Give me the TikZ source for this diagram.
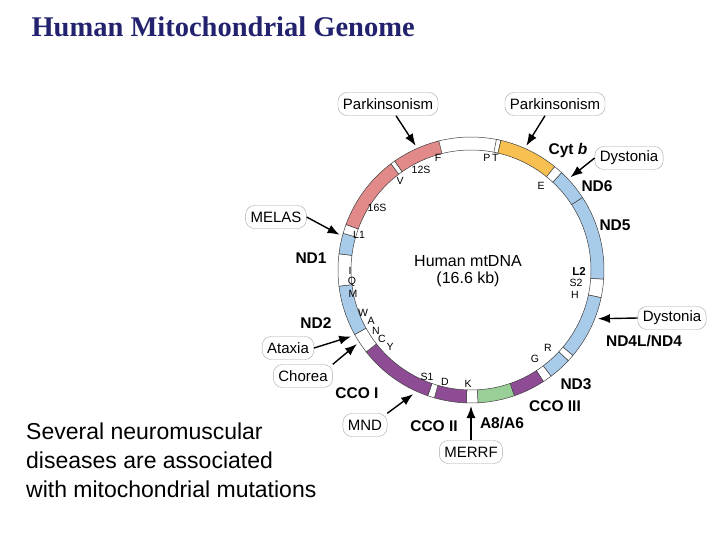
\documentclass[tikz,border=0pt]{standalone}
\usepackage{fontspec}
\setmainfont{Liberation Sans}
\newfontfamily\ttlfont{Liberation Serif}
\usetikzlibrary{calc,arrows.meta}
\definecolor{rred}{HTML}{E28A8A}
\definecolor{ryel}{HTML}{F8C050}
\definecolor{rblue}{HTML}{A9CBEA}
\definecolor{rpur}{HTML}{8E4C94}
\definecolor{rgrn}{HTML}{9ACF98}
\definecolor{ttl}{HTML}{22226E}
\begin{document}
\begin{tikzpicture}[x=1pt,y=-1pt,
  box/.style={draw=gray!70,rounded corners=9pt,fill=white,minimum height=23pt,inner xsep=5pt,font=\fontsize{15}{15}\selectfont},
  arr/.style={-{Latex[length=12pt,width=9pt]},line width=1.4pt,black},
  gl/.style={font=\bfseries\fontsize{15.5}{15.5}\selectfont,inner sep=0pt},
  sl/.style={font=\fontsize{10.5}{10.5}\selectfont,inner sep=0pt},
  segs/.style={draw=black!75,line width=0.5pt}]
\useasboundingbox (0,0) rectangle (720,540);
\node[anchor=west,font=\ttlfont\bfseries\fontsize{28.5}{28.5}\selectfont,text=ttl] (title) at (28,27) {Human Mitochondrial Genome};
\node[anchor=north west,align=left,font=\fontsize{23}{29}\selectfont,inner sep=0pt] (body) at (26,423) {Several neuromuscular\\diseases are associated\\with mitochondrial mutations};
\begin{scope}[shift={(471,270)}]
\newcommand\sg[3]{\filldraw[segs,fill=#3] (#1:120) arc[start angle=#1,end angle=#2,radius=120] -- (#2:133) arc[start angle=#2,end angle=#1,radius=133] -- cycle;}
\sg{-105}{-77}{white}
\sg{-79}{-77}{white}
\sg{-77}{-51}{ryel}
\sg{-51}{-47}{white}
\sg{-47}{-33}{rblue}
\sg{-33}{4}{rblue}
\sg{4}{12}{white}
\sg{12}{40}{rblue}
\sg{40}{43}{white}
\sg{43}{53}{rblue}
\sg{53}{57}{white}
\sg{57}{71}{rpur}
\sg{71}{87}{rgrn}
\sg{87}{92}{white}
\sg{92}{106}{rpur}
\sg{106}{109}{white}
\sg{109}{142}{rpur}
\sg{142}{151}{white}
\sg{151}{173}{rblue}
\sg{173}{187}{white}
\sg{187}{196}{rblue}
\sg{196}{200}{white}
\sg{200}{233}{rred}
\sg{233}{235}{white}
\sg{235}{256}{rred}
\coordinate (t1) at (246:136);
\coordinate (t2) at (-66:136);
\coordinate (t3) at (-43:136);
\coordinate (t4) at (195:136);
\coordinate (t5) at (21:136);
\coordinate (t6) at (151:137);
\coordinate (t7) at (147:136);
\coordinate (t8) at (115:137);
\coordinate (t9) at (90:136);
\end{scope}
% gene labels
\node[gl] (nd1) at (311,258) {ND1};
\node[gl] (nd2) at (316,323) {ND2};
\node[gl] (co1) at (357,393) {CCO I};
\node[gl] (co2) at (434,426) {CCO II};
\node[gl] (a86) at (502,423) {A8/A6};
\node[gl] (co3) at (555,406) {CCO III};
\node[gl] (nd3) at (576,384) {ND3};
\node[gl] (nd4) at (644,341) {ND4L/ND4};
\node[gl] (nd5) at (615,225) {ND5};
\node[gl] (nd6) at (597,186) {ND6};
\node[gl] (cyt) at (568,150) {Cyt \textit{b}};
% small labels
\node[sl] (lF) at (438,158) {F};
\node[sl] (lP) at (491,158) {P\,T};
\node[sl] (l12) at (421,170) {12S};
\node[sl] (lV) at (400,181) {V};
\node[sl] (l16) at (377,208) {16S};
\node[sl] (lL1) at (359,235) {L1};
\node[sl] (lE) at (541,186) {E};
\node[sl] (lI) at (350,271) {I};
\node[sl] (lQ) at (352,282) {Q};
\node[sl] (lM) at (353,294) {M};
\node[sl] (lW) at (363,313) {W};
\node[sl] (lA) at (371,321) {A};
\node[sl] (lN) at (376,331) {N};
\node[sl] (lC) at (382,339) {C};
\node[sl] (lY) at (390,347) {Y};
\node[sl] (lS1) at (427,377) {S1};
\node[sl] (lD) at (445,382) {D};
\node[sl] (lK) at (468,384) {K};
\node[sl] (lG) at (535,359) {G};
\node[sl] (lR) at (548,348) {R};
\node[sl,font=\bfseries\fontsize{11.5}{11.5}\selectfont] (lL2) at (579,271) {L2};
\node[sl] (lS2) at (576,283) {S2};
\node[sl] (lH) at (575,295) {H};
\node[font=\fontsize{16}{17}\selectfont,align=center] (ctr) at (468,271) {Human mtDNA\\(16.6 kb)};
% callouts
\node[box] (b1) at (388,104) {Parkinsonism};
\node[box] (b2) at (555,104) {Parkinsonism};
\node[box] (b3) at (629,158) {Dystonia};
\node[box] (b4) at (276,217) {MELAS};
\node[box] (b5) at (672,318) {Dystonia};
\node[box] (b6) at (288,348) {Ataxia};
\node[box] (b7) at (303,376) {Chorea};
\node[box] (b8) at (365,425) {MND};
\node[box] (b9) at (471,452) {MERRF};
\draw[arr] (b1.south) ++(8,0) coordinate (s1) -- (t1);
\draw[arr] (b2.south) ++(-10,0) coordinate (s2) -- (t2);
\draw[arr] (b3.west) -- (t3);
\draw[arr] (b4.east) -- (t4);
\draw[arr] (b5.west) -- (t5);
\draw[arr] (b6.east) -- (t6);
\draw[arr] (b7.north east) -- (t7);
\draw[arr] (b8.north east) -- (t8);
\draw[arr] (b9.north) -- (t9);
\end{tikzpicture}
\end{document}
